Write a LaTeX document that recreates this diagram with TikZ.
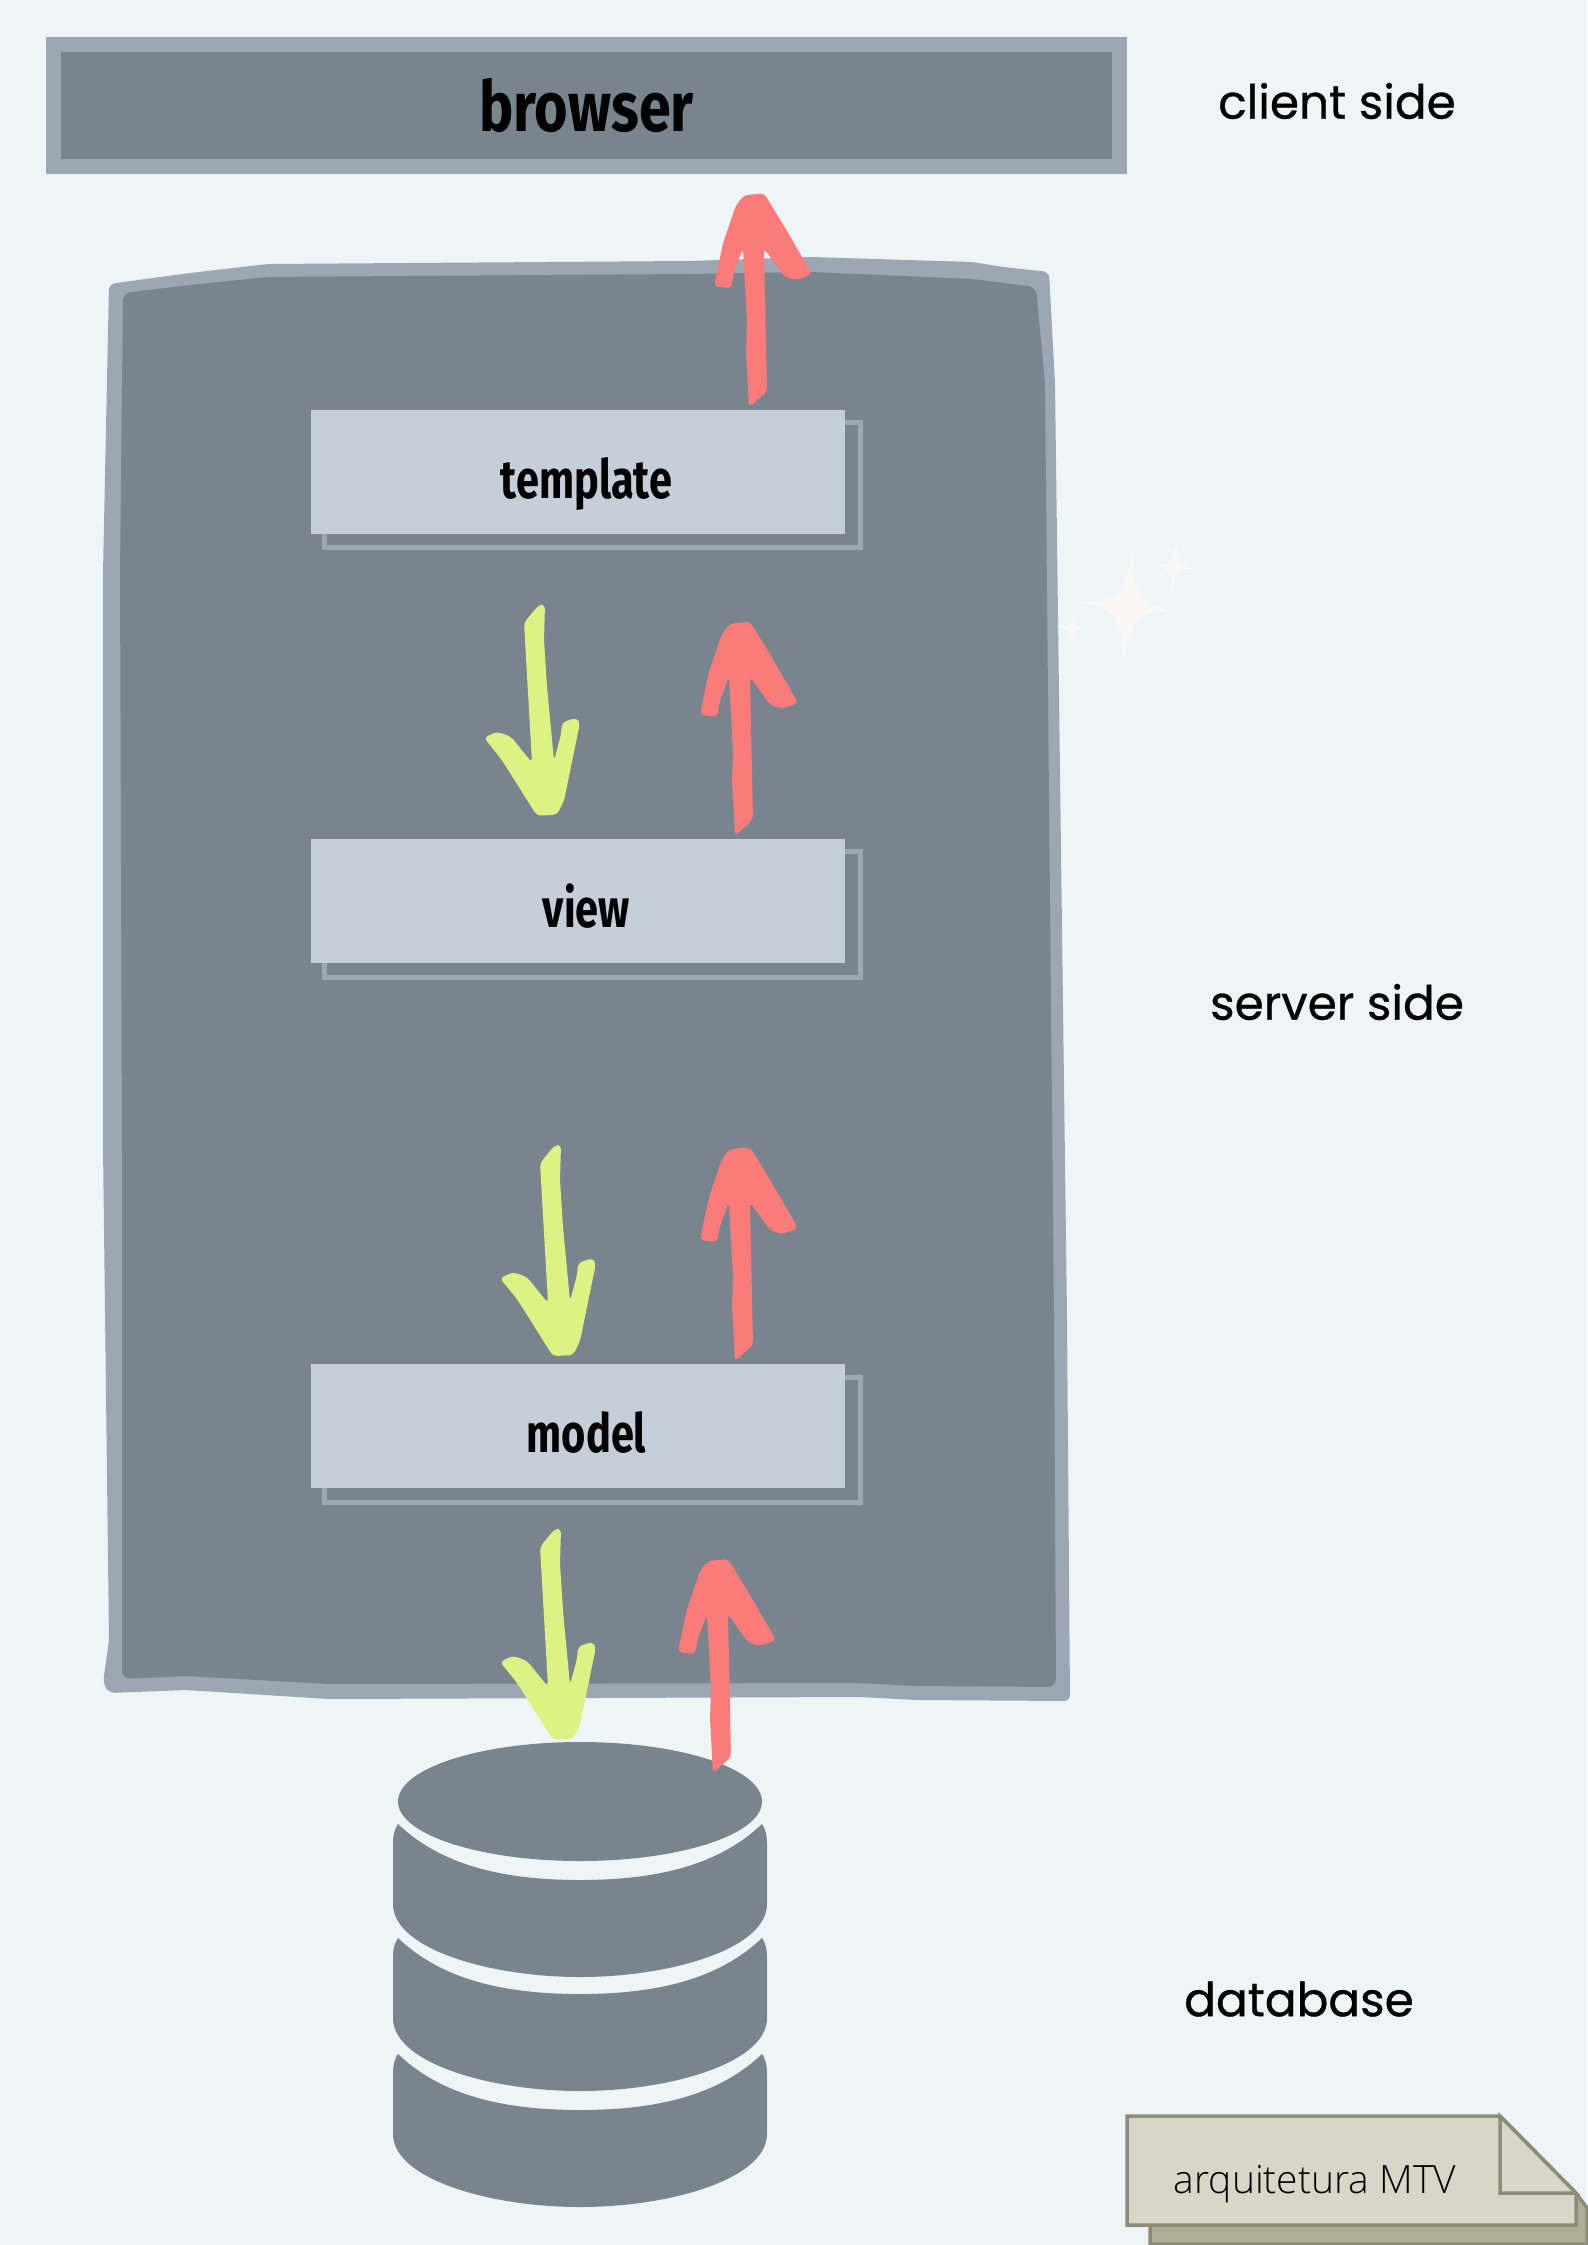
\documentclass[tikz,border=0pt]{standalone}
\usepackage{fontspec}
\usepackage{xcolor}
\usepackage{tikz}
\usetikzlibrary{positioning,shapes.geometric,calc,backgrounds,decorations.markings}
\newfontfamily\boxfont[FakeStretch=0.77]{Fira Sans}
\newfontfamily\browserfont[FakeStretch=0.82]{Fira Sans}
\newfontfamily\sidefont[FakeBold=0.7]{Poppins}
\newfontfamily\notefont{Open Sans Light}
\definecolor{page}{HTML}{EDF5F7}
\definecolor{slatefill}{HTML}{78848E}
\definecolor{slateline}{HTML}{9BA7B2}
\definecolor{boxfill}{HTML}{C6CED9}
\definecolor{salmon}{HTML}{FB7A7A}
\definecolor{lime}{HTML}{DDF283}
\definecolor{notefill}{HTML}{D8D7C7}
\definecolor{noteline}{HTML}{8E8C78}
\definecolor{noteback}{HTML}{B1AC96}
\definecolor{sparkle}{HTML}{FAF8F6}
\newcommand{\redshape}{\pgftransformresetnontranslations
  \fill[salmon, rounded corners=4pt] (0,5) -- (18,-11) -- (15,-154) -- (35,-126) -- (47,-122) -- (63,-128)
    -- (37,-173) -- (15,-209) -- (-5,-207) -- (-13,-197) -- (-26,-159) -- (-35,-116) -- (-18,-114)
    -- (-15,-130) -- (-6,-154) -- (-2,-78) -- (-3,-50) -- cycle;}
\newcommand{\limeshape}{\pgftransformresetnontranslations
  \fill[lime, rounded corners=4pt] (-8,-211) -- (-23,-193) -- (-15,-53) -- (-36,-79) -- (-50,-84) -- (-63,-78)
    -- (-46,-57) -- (-10,0) -- (10,-1) -- (17,-15) -- (33,-93) -- (29,-98) -- (15,-93)
    -- (14,-81) -- (7,-55) -- (0,-129) -- (-3,-176) -- (-2,-211) -- cycle;}
\tikzset{
  layerbox/.style={rectangle, draw=none, fill=boxfill, inner sep=0pt, minimum width=534pt, minimum height=124pt,
    font=\boxfont\bfseries\fontsize{54}{54}\selectfont, text=black, text height=53pt, text depth=0pt,
    execute at begin node=\hspace*{17pt}},
  browserbox/.style={rectangle, draw=slateline, fill=slatefill, line width=15pt, inner sep=0pt,
    minimum width=1066pt, minimum height=122pt, font=\browserfont\bfseries\fontsize{70}{70}\selectfont, text=black},
  dbtop/.style={ellipse, fill=slatefill, inner sep=0pt, minimum width=364pt, minimum height=119pt},
  dbdisk/.style={fill=slatefill},
  sidelabel/.style={font=\sidefont\fontsize{47}{47}\selectfont, text=black, inner sep=0pt},
  notelabel/.style={font=\notefont\fontsize{39}{39}\selectfont, text=black, inner sep=0pt},
  stackline/.style={draw=slateline, line width=5pt},
  upflow/.style={decorate, decoration={markings, mark=at position 0 with {\redshape}}},
  downflow/.style={decorate, decoration={markings, mark=at position 1 with {\limeshape}}},
  noteshape/.style={fill=notefill, draw=noteline, line width=3.5pt}
}
\begin{document}
\begin{tikzpicture}[x=1pt, y=-1pt]
  \useasboundingbox (0,0) rectangle (1587,2245);
  \node[browserbox] (browser) at (586.5,105.5) {browser};
  \node[layerbox] (template) at (578,471.5) {template};
  \node[layerbox, below=305pt of template] (view) {view};
  \node[layerbox, below=401pt of view] (model) {model};
  \node[dbtop] (db) at (580,1801.5) {};
  \coordinate (dbout) at (713,1776);
  \node[sidelabel] (client) at (1337,101) {client side};
  \node[sidelabel] (server) at (1337,1002) {server side};
  \node[sidelabel] (database) at (1299,1999) {database};
  \begin{scope}[on background layer]
    \fill[page] (0,0) rectangle (1587,2245);
    % server side frame
    \fill[slateline, rounded corners=6pt] (109,284) -- (190,273) -- (268,264) -- (689,261) -- (811,257) -- (972,262) -- (1003,267) -- (1049,272) -- (1055,383)
      -- (1067,1318) -- (1070,1701) -- (917,1700) -- (859,1697) -- (329,1699) -- (186,1690) -- (109,1693)
      -- (103,1683) -- (109,1640) -- (103,1146) -- (103,573) -- cycle;
    \fill[slatefill, rounded corners=8pt] (123,293) -- (190,285) -- (268,277) -- (689,274) -- (811,272) -- (972,279) -- (1036,287)
      -- (1045,383) -- (1054,1318) -- (1056,1687) -- (917,1686) -- (859,1683) -- (329,1684) -- (186,1676)
      -- (122,1679) -- (122,1146) -- (120,573) -- cycle;
    \foreach \boxname in {template,view,model}
      \draw[stackline] ($(\boxname.north east)+(15,13)$) rectangle ($(\boxname.south west)+(14,14)$);
  \end{scope}
  % database
  \foreach \layer in {1824,1938,2054}
    \fill[dbdisk, shift={(0,\layer)}] (398,0) .. controls (440,40) and (500,56) .. (580,56)
      .. controls (660,56) and (720,40) .. (762,0) .. controls (767,8) and (767,14) .. (767,22) -- (767,80)
      .. controls (767,125) and (670,153) .. (580,153) .. controls (490,153) and (393,125) .. (393,80)
      -- (393,22) .. controls (393,14) and (393,8) .. (398,0) -- cycle;
  % arrows
  \draw[upflow] ([xshift=171pt,yshift=7pt]template.north) -- ([xshift=162.5pt]browser.south);
  \draw[upflow] ([xshift=157pt,yshift=8pt]view.north) -- ([xshift=157pt]template.south);
  \draw[upflow] ([xshift=157pt,yshift=8pt]model.north) -- ([xshift=157pt]view.south);
  \draw[upflow] ([yshift=8pt]dbout) -- (model.south -| dbout);
  \draw[downflow] ([xshift=-31pt]template.south) -- ([xshift=-31pt,yshift=23pt]view.north);
  \draw[downflow] ([xshift=-15pt]view.south) -- ([xshift=-15pt,yshift=8pt]model.north);
  \draw[downflow] ([xshift=-15pt]model.south) -- ([xshift=-17pt,yshift=2pt]db.north);
  % sparkles
  \foreach \cx/\cy/\s in {1127/607/1,1174/567/.43,1072/628/.28}
    \fill[sparkle, shift={(\cx,\cy)}, scale=\s] (6,-57) .. controls (7,-14) and (8,0) .. (56,5)
      .. controls (10,1) and (6,8) .. (-4,56) .. controls (-5,14) and (-8,0) .. (-57,-6)
      .. controls (-10,-3) and (-5,-8) .. (6,-57) -- cycle;
  % note
  \draw[fill=noteback, draw=noteline, line width=3.5pt] (1150,2225) -- (1150,2244) -- (1587,2244) -- (1587,2208) -- (1576,2193) -- cycle;
  \draw[noteshape] (1127,2116) -- (1500,2116) -- (1576,2193) -- (1576,2225) -- (1127,2225) -- cycle;
  \draw[noteshape] (1500,2116) -- (1500,2193) -- (1576,2193) -- cycle;
  \node[notelabel] (note) at (1315,2184) {arquitetura MTV};
\end{tikzpicture}
\end{document}
